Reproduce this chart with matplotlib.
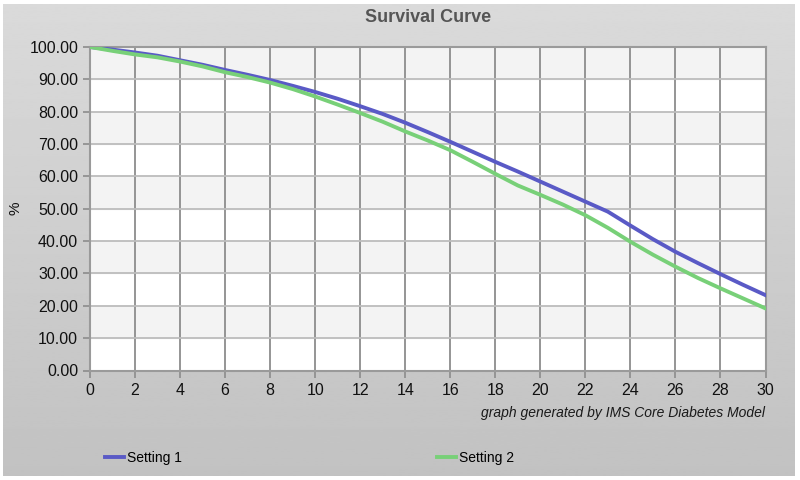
import numpy as np
import matplotlib.pyplot as plt
from matplotlib.ticker import FormatStrFormatter

plt.rcParams['font.family'] = ['Liberation Sans', 'DejaVu Sans']

years = list(range(0, 31))
setting1 = [100.0, 99.2, 98.3, 97.3, 95.9, 94.5, 92.9, 91.4, 89.8, 88.0,
            86.1, 84.0, 81.7, 79.3, 76.6, 73.7, 70.7, 67.6, 64.5, 61.5,
            58.4, 55.3, 52.2, 49.1, 44.8, 40.6, 36.7, 33.2, 29.8, 26.5, 23.3]
setting2 = [100.0, 98.8, 97.7, 96.8, 95.5, 94.0, 92.2, 90.7, 89.0, 87.0,
            84.7, 82.2, 79.6, 76.9, 73.9, 71.1, 68.1, 64.5, 60.8, 57.2,
            54.3, 51.3, 48.0, 44.1, 39.8, 35.8, 32.1, 28.6, 25.4, 22.3, 19.2]
x_ticks = list(range(0, 31, 2))
y_ticks = list(range(0, 101, 10))

fig = plt.figure(figsize=(8, 4.8), dpi=100, facecolor='white')

# grey gradient panel behind everything
bg = fig.add_axes([3 / 800, 4 / 480, 792 / 800, 472 / 480], zorder=-1)
grad = np.linspace(0.855, 0.76, 256).reshape(-1, 1)
bg.imshow(grad, aspect='auto', cmap='gray', vmin=0, vmax=1, extent=[0, 1, 0, 1])
bg.axis('off')

ax = fig.add_axes([90 / 800, 109.5 / 480, 675.5 / 800, 323.5 / 480])
ax.set_facecolor('white')
ax.set_xlim(0, 30)
ax.set_ylim(0, 100)

for y0 in [10, 30, 50, 70, 90]:
    ax.axhspan(y0, y0 + 10, color='#f3f3f3', zorder=0)
for xv in x_ticks[1:-1]:
    ax.axvline(xv, color='#8c8c8c', lw=1.3, zorder=1)
for yv in y_ticks[1:-1]:
    ax.axhline(yv, color='#bcbcbc', lw=1.3, zorder=1)

ax.plot(years, setting1, color='#5a5ac6', lw=2.8, label='Setting 1', zorder=3)
ax.plot(years, setting2, color='#78d078', lw=2.8, label='Setting 2', zorder=3)

ax.set_xticks(x_ticks)
ax.set_yticks(y_ticks)
ax.yaxis.set_major_formatter(FormatStrFormatter('%.2f'))
ax.tick_params(axis='both', colors='#8c8c8c', length=5, width=1.2,
               labelcolor='#111111', labelsize=11.5)
ax.tick_params(axis='x', pad=4)
for s in ax.spines.values():
    s.set_color('#9a9a9a')
    s.set_linewidth(1.5)

fig.text(16 / 800, 1 - 208 / 480, '%', rotation=90, ha='center', va='center',
         fontsize=11, color='#111111')
fig.text(428 / 800, 1 - 18 / 480, 'Survival Curve', ha='center', va='center',
         fontsize=13, fontweight='bold', color='#555555')
fig.text(765 / 800, 1 - 413 / 480, 'graph generated by IMS Core Diabetes Model',
         ha='right', va='center', fontsize=10, style='italic', color='#1a1a1a')

# legend drawn as two entries spread along the bottom
h, l = ax.get_legend_handles_labels()
fig.legend([h[0]], [l[0]], loc='center left', bbox_to_anchor=(92 / 800, 1 - 458 / 480),
           frameon=False, handlelength=1.4, handletextpad=0.2, fontsize=10)
fig.legend([h[1]], [l[1]], loc='center left', bbox_to_anchor=(424 / 800, 1 - 458 / 480),
           frameon=False, handlelength=1.4, handletextpad=0.2, fontsize=10)

fig.savefig('out.png', dpi=100, facecolor='white')
